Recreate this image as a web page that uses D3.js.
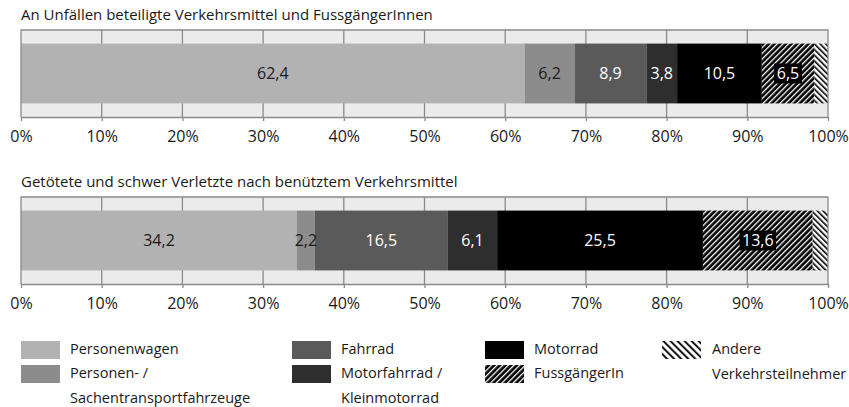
<!DOCTYPE html>
<html>
<head>
<meta charset="utf-8">
<script src="https://cdn.jsdelivr.net/npm/d3@7"></script>
<style>
  body { margin: 0; background: #fff; }
  svg { display: block; font-family: 'Open Sans', sans-serif; }
</style>
</head>
<body>
<svg></svg>
<script>
// Dimension constants
const WIDTH = 849;
const HEIGHT = 407;
const LEFT = 21;
const RIGHT = 828;

// data
const categories = [
    'Personenwagen',
    'Personen- / Sachentransportfahrzeuge',
    'Fahrrad',
    'Motorfahrrad / Kleinmotorrad',
    'Motorrad',
    'FussgängerIn',
    'Andere Verkehrsteilnehmer'
];
const unfaelle = [62.4, 6.2, 8.9, 3.8, 10.5, 6.5, 1.7];
const verletzte = [34.2, 2.2, 16.5, 6.1, 25.5, 13.6, 1.9];
const panelTitles = [
    'An Unfällen beteiligte Verkehrsmittel und FussgängerInnen',
    'Getötete und schwer Verletzte nach benütztem Verkehrsmittel'
];
const tickValues = [0, 10, 20, 30, 40, 50, 60, 70, 80, 90, 100];

// legend text split in lines
const legendLines = [
    ['Personenwagen'],
    ['Personen- /', 'Sachentransportfahrzeuge'],
    ['Fahrrad'],
    ['Motorfahrrad /', 'Kleinmotorrad'],
    ['Motorrad'],
    ['FussgängerIn'],
    ['Andere', 'Verkehrsteilnehmer']
];

// colors
const fills = ['#b2b2b2', '#8c8c8c', '#5a5a5a', '#2e2e2e', '#000000', 'url(#hatchFuss)', 'url(#hatchAndere)'];
const labelColors = ['#1a1a1a', '#1a1a1a', '#fff', '#fff', '#fff', '#fff', '#fff'];

const svg = d3.select('svg')
    .attr('width', WIDTH)
    .attr('height', HEIGHT);

// patterns
const defs = svg.append('defs');
const pFuss = defs.append('pattern')
    .attr('id', 'hatchFuss')
    .attr('patternUnits', 'userSpaceOnUse')
    .attr('width', 4).attr('height', 4)
    .attr('patternTransform', 'rotate(45)');
pFuss.append('rect').attr('width', 4).attr('height', 4).attr('fill', '#000');
pFuss.append('rect').attr('width', 1.3).attr('height', 4).attr('fill', '#fff');

const pAndere = defs.append('pattern')
    .attr('id', 'hatchAndere')
    .attr('patternUnits', 'userSpaceOnUse')
    .attr('width', 4).attr('height', 4)
    .attr('patternTransform', 'rotate(-45)');
pAndere.append('rect').attr('width', 4).attr('height', 4).attr('fill', '#fff');
pAndere.append('rect').attr('width', 1.6).attr('height', 4).attr('fill', '#000');

const pAndereLeg = defs.append('pattern')
    .attr('id', 'hatchAndereLeg')
    .attr('patternUnits', 'userSpaceOnUse')
    .attr('width', 5).attr('height', 5)
    .attr('patternTransform', 'rotate(-45)');
pAndereLeg.append('rect').attr('width', 1.8).attr('height', 5).attr('fill', '#000');

const x = d3.scaleLinear()
    .domain([0, 100])
    .range([LEFT, RIGHT]);

const fmt = v => v.toFixed(1).replace('.', ',');

// panels
const panels = [unfaelle, verletzte];
panels.forEach((values, p) => {
    const top = 30 + p * 167;
    const boxH = 87;
    const g = svg.append('g').attr('class', 'panel');

    g.append('text')
        .attr('x', LEFT)
        .attr('y', top - 10)
        .attr('font-size', 15)
        .attr('fill', '#1a1a1a')
        .text(panelTitles[p]);

    g.append('rect')
        .attr('x', x(0))
        .attr('y', top)
        .attr('width', x(100) - x(0))
        .attr('height', boxH)
        .attr('fill', '#ebebeb');

    g.selectAll('.grid')
        .data(tickValues.slice(1, -1)).enter().append('line')
        .attr('x1', d => x(d)).attr('x2', d => x(d))
        .attr('y1', top).attr('y2', top + boxH)
        .attr('stroke', '#8a8a8a')
        .attr('stroke-width', 1.3);

    const y = d3.scaleBand()
        .domain([0])
        .range([top, top + boxH])
        .padding(0.185);

    const starts = [0, ...d3.cumsum(values)].slice(0, values.length);

    g.selectAll('.seg')
        .data(values).enter().append('rect')
        .attr('class', 'seg')
        .attr('x', (d, i) => x(starts[i]))
        .attr('y', y(0))
        .attr('width', d => x(d) - x(0))
        .attr('height', y.bandwidth())
        .attr('fill', (d, i) => fills[i]);

    // black background behind the label on the hatched segment
    const fi = 5;
    const cxF = x(starts[fi] + values[fi] / 2);
    const lw = fmt(values[fi]).length * 8.6;
    g.append('rect')
        .attr('x', cxF - lw / 2 - 1)
        .attr('y', y(0) + y.bandwidth() / 2 - 10)
        .attr('width', lw + 2)
        .attr('height', 20)
        .attr('fill', '#000');

    g.selectAll('.lbl')
        .data(values.slice(0, 6)).enter().append('text')
        .attr('class', 'lbl')
        .attr('x', (d, i) => x(starts[i] + d / 2))
        .attr('y', y(0) + y.bandwidth() / 2)
        .attr('dy', '0.35em')
        .attr('text-anchor', 'middle')
        .attr('font-size', 16)
        .attr('fill', (d, i) => labelColors[i])
        .text(d => fmt(d));

    // frame
    g.append('path')
        .attr('d', `M${x(0)},${top + boxH}V${top}H${x(100)}V${top + boxH}`)
        .attr('fill', 'none')
        .attr('stroke', '#8a8a8a')
        .attr('stroke-width', 1.3);

    const axis = g.append('g')
        .attr('transform', `translate(0,${top + boxH})`)
        .call(d3.axisBottom(x)
            .tickValues(tickValues)
            .tickSize(4)
            .tickSizeOuter(0)
            .tickPadding(10)
            .tickFormat(d => d + '%'));
    axis.select('.domain').attr('stroke', '#8a8a8a').attr('stroke-width', 1.3);
    axis.selectAll('.tick line').attr('stroke', '#8a8a8a').attr('stroke-width', 1.3);
    axis.selectAll('.tick text')
        .attr('font-family', "'Open Sans', sans-serif")
        .attr('font-size', 16)
        .attr('fill', '#1a1a1a');
});

// legend
const legendPos = [
    [21, 341], [21, 365],
    [292, 341], [292, 365],
    [485, 341], [485, 365],
    [662, 341]
];
const legendFills = ['#b2b2b2', '#8c8c8c', '#5a5a5a', '#2e2e2e', '#000000', 'url(#hatchFuss)', 'url(#hatchAndereLeg)'];

const legend = svg.append('g').attr('id', 'legend');
const items = legend.selectAll('.item')
    .data(categories).enter().append('g')
    .attr('class', 'item')
    .attr('transform', (d, i) => `translate(${legendPos[i][0]},${legendPos[i][1]})`);

items.append('rect')
    .attr('width', 39)
    .attr('height', 18)
    .attr('fill', (d, i) => legendFills[i]);

items.append('text')
    .attr('x', (d, i) => i === 6 ? 50 : 49)
    .attr('y', 13)
    .attr('font-size', 14.5)
    .attr('fill', '#1a1a1a')
    .selectAll('tspan')
    .data((d, i) => legendLines[i]).enter().append('tspan')
    .attr('x', function() { return this.parentNode.getAttribute('x'); })
    .attr('dy', (d, j) => j === 0 ? 0 : 25)
    .text(d => d);
</script>
</body>
</html>
